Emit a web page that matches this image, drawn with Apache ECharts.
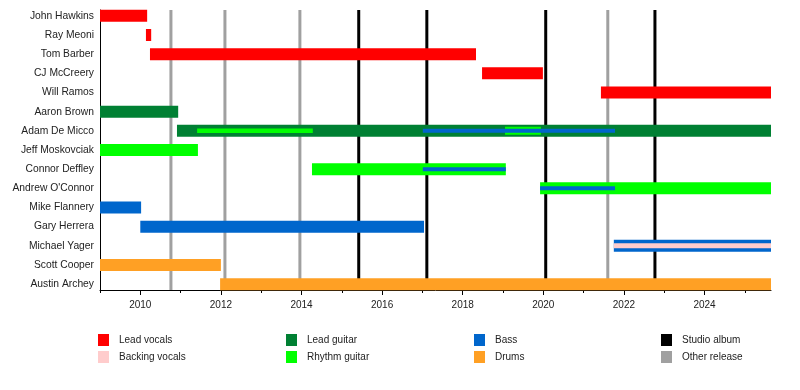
<!DOCTYPE html>
<html>
<head>
<meta charset="utf-8">
<script src="https://cdn.jsdelivr.net/npm/echarts@6/dist/echarts.min.js"></script>
<style>
html,body{margin:0;padding:0;background:#fff;}
#chart{width:800px;height:390px;}
</style>
</head>
<body>
<div id="chart"></div>
<script>
// ---- data ----
const members = ['John Hawkins','Ray Meoni','Tom Barber','CJ McCreery','Will Ramos','Aaron Brown','Adam De Micco','Jeff Moskovciak','Connor Deffley',"Andrew O'Connor",'Mike Flannery','Gary Herrera','Michael Yager','Scott Cooper','Austin Archey'];
const timelineStart = 2009.0;
const timelineEnd = 2025.65;
const yearTicksMajor = [2010,2012,2014,2016,2018,2020,2022,2024];
const yearTicksMinor = [2009,2011,2013,2015,2017,2019,2021,2023,2025];

const leadVocals = [['John Hawkins',2009.0,2010.17],['Ray Meoni',2010.14,2010.27],['Tom Barber',2010.24,2018.33],['CJ McCreery',2018.48,2019.99],['Will Ramos',2021.43,2025.65]];
const leadGuitar = [['Aaron Brown',2009.0,2010.94],['Adam De Micco',2010.91,2025.65]];
const rhythmGuitar = [['Jeff Moskovciak',2009.0,2011.43],['Connor Deffley',2014.26,2019.07],["Andrew O'Connor",2019.92,2025.65]];
const bass = [['Mike Flannery',2009.0,2010.02],['Gary Herrera',2010.0,2017.04],['Michael Yager',2021.75,2025.65]];
const drums = [['Scott Cooper',2009.0,2012.0],['Austin Archey',2011.98,2025.65]];
// secondary roles (drawn as inner lines)
const rhythmGuitarInnerWide = [['Adam De Micco',2019.05,2019.94]];
const rhythmGuitarInnerThin = [['Adam De Micco',2011.41,2014.28]];
const bassInner = [['Adam De Micco',2017.01,2021.78],['Connor Deffley',2017.01,2019.07],["Andrew O'Connor",2019.92,2021.78]];
const backingVocalsInner = [['Michael Yager',2021.75,2025.65]];
// releases
const studioAlbums = [2015.42,2017.11,2020.06,2022.77];
const otherReleases = [2010.76,2012.10,2013.96,2021.60];

// ---- chart ----
const FONT = 'Liberation Sans, Arial, sans-serif';
const toData = arr => arr.map(r => [members.indexOf(r[0]), r[1], r[2]]);
const yMin = -0.305, yMax = members.length - 1 + 0.305;

function barRenderer(px) {
  return function (params, api) {
    const y = api.value(0);
    const s = api.coord([api.value(1), y]);
    const e = api.coord([api.value(2), y]);
    return {
      type: 'rect',
      shape: { x: s[0], y: s[1] - px / 2, width: e[0] - s[0], height: px },
      style: { fill: api.visual('color') }
    };
  };
}
function lineRenderer(w) {
  return function (params, api) {
    const x = api.value(0);
    const top = api.coord([x, yMin]);
    const bot = api.coord([x, yMax]);
    return {
      type: 'rect',
      shape: { x: top[0] - w / 2, y: Math.min(top[1], bot[1]), width: w, height: Math.abs(bot[1] - top[1]) },
      style: { fill: api.visual('color') }
    };
  };
}
function barSeries(name, color, arr, px, z) {
  return { type: 'custom', name, z, renderItem: barRenderer(px), itemStyle: { color },
    encode: { x: [1, 2], y: 0 }, data: toData(arr), silent: true };
}
function lineSeries(name, color, arr, w) {
  return { type: 'custom', name, z: 1, renderItem: lineRenderer(w), itemStyle: { color },
    encode: { x: 0 }, data: arr.map(v => [v]), silent: true };
}

const C = { lv: '#ff0000', bv: '#ffcccc', lg: '#008033', rg: '#00ff00', bass: '#0066cc', dr: '#ffa024', sa: '#000000', or: '#a0a0a0' };

const legendBase = { orient: 'vertical', top: 329, itemWidth: 11, itemHeight: 12, itemGap: 5, icon: 'rect',
  textStyle: { fontFamily: FONT, fontSize: 10, color: '#222', padding: [0, 0, 0, 5] }, selectedMode: false };

const option = {
  backgroundColor: '#fff',
  animation: false,
  grid: { left: 100, right: 29, top: 10, bottom: 100, containLabel: false },
  xAxis: [
    { type: 'value', min: timelineStart, max: timelineEnd, position: 'bottom',
      splitLine: { show: false },
      axisLine: { show: true, onZero: false, lineStyle: { color: '#000', width: 1 } },
      axisTick: { show: true, customValues: yearTicksMajor, length: 5, lineStyle: { color: '#000' } },
      axisLabel: { customValues: yearTicksMajor, margin: 10, fontFamily: FONT, fontSize: 10, color: '#222', formatter: v => String(v) } },
    // minor year ticks: a second axis moved down onto the bottom edge, ticks pointing down
    { type: 'value', min: timelineStart, max: timelineEnd, position: 'top', offset: -280,
      splitLine: { show: false }, axisLine: { show: false, onZero: false },
      axisTick: { show: true, inside: true, customValues: yearTicksMinor, length: 3, lineStyle: { color: '#000' } },
      axisLabel: { show: false } }
  ],
  yAxis: { type: 'value', inverse: true, min: yMin, max: yMax,
    splitLine: { show: false },
    axisLine: { show: true, onZero: false, lineStyle: { color: '#000', width: 1 } },
    axisTick: { show: false },
    axisLabel: { customValues: members.map((m, i) => i), margin: 6, fontFamily: FONT, fontSize: 10.3, color: '#222',
      formatter: v => members[Math.round(v)] || '' } },
  legend: [
    Object.assign({}, legendBase, { left: 93, data: ['Lead vocals', 'Backing vocals'] }),
    Object.assign({}, legendBase, { left: 281, data: ['Lead guitar', 'Rhythm guitar'] }),
    Object.assign({}, legendBase, { left: 469, data: ['Bass', 'Drums'] }),
    Object.assign({}, legendBase, { left: 656, data: ['Studio album', 'Other release'] })
  ],
  series: [
    lineSeries('Other release', C.or, otherReleases, 3),
    lineSeries('Studio album', C.sa, studioAlbums, 3),
    barSeries('Lead vocals', C.lv, leadVocals, 12, 2),
    barSeries('Lead guitar', C.lg, leadGuitar, 12, 2),
    barSeries('Rhythm guitar', C.rg, rhythmGuitar, 12, 2),
    barSeries('Bass', C.bass, bass, 12, 2),
    barSeries('Drums', C.dr, drums, 12, 2),
    barSeries('Rhythm guitar', C.rg, rhythmGuitarInnerWide, 8, 3),
    barSeries('Rhythm guitar', C.rg, rhythmGuitarInnerThin, 4.5, 4),
    barSeries('Bass', C.bass, bassInner, 4, 4),
    barSeries('Backing vocals', C.bv, backingVocalsInner, 5, 4)
  ]
};

const chart = echarts.init(document.getElementById('chart'), null, { renderer: 'canvas' });
chart.setOption(option);
</script>
</body>
</html>
